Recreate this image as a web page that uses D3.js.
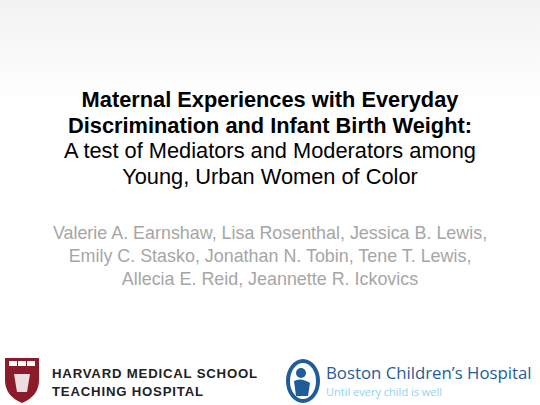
<!DOCTYPE html>
<html><head><meta charset="utf-8">
<script src="https://cdn.jsdelivr.net/npm/d3@7"></script>
<style>body{margin:0;background:#fff}</style></head>
<body><svg id="s" width="540" height="405"></svg>
<script>
const titleLines=["Maternal Experiences with Everyday","Discrimination and Infant Birth Weight:","A test of Mediators and Moderators among","Young, Urban Women of Color"];
const titleBold=[true,true,false,false];
const authorLines=["Valerie A. Earnshaw, Lisa Rosenthal, Jessica B. Lewis,","Emily C. Stasko, Jonathan N. Tobin, Tene T. Lewis,","Allecia E. Reid, Jeannette R. Ickovics"];
const svg=d3.select("#s");
const defs=svg.append("defs");
const g=defs.append("linearGradient").attr("id","bg").attr("x1",0).attr("y1",0).attr("x2",0).attr("y2",1);
g.append("stop").attr("offset","0%").attr("stop-color","#f2f2f2");
g.append("stop").attr("offset","25%").attr("stop-color","#ffffff");
svg.append("rect").attr("width",540).attr("height",405).attr("fill","url(#bg)");
const ty=d3.scaleLinear().domain([0,3]).range([107,184]);
svg.selectAll("text.t").data(titleLines).join("text").attr("class","t")
 .attr("x",270).attr("y",(d,i)=>ty(i)).attr("text-anchor","middle")
 .attr("font-family","Liberation Sans, Arial").attr("font-size",21.8)
 .attr("font-weight",(d,i)=>titleBold[i]?"bold":"normal").attr("fill","#000").text(d=>d);
const ay=d3.scaleLinear().domain([0,2]).range([239,285]);
svg.selectAll("text.a").data(authorLines).join("text").attr("class","a")
 .attr("x",270).attr("y",(d,i)=>ay(i)).attr("text-anchor","middle")
 .attr("font-family","Liberation Sans, Arial").attr("font-size",17.9)
 .attr("fill","#a6a6a6").text(d=>d);
const sh=svg.append("g").attr("transform","translate(5,358)");
sh.append("path").attr("d","M0,0 H34 V22 Q34,38 17,45 Q0,38 0,22 Z").attr("fill","#8c1b2a");
[4,13,22].forEach(x=>sh.append("rect").attr("x",x).attr("y",3).attr("width",8).attr("height",5).attr("fill","#fff"));
sh.append("path").attr("d","M9,16 L25,16 L22,34 L12,34 Z").attr("fill","#fff").attr("opacity",0.85);
svg.append("text").attr("x",52).attr("y",378).attr("font-family","Liberation Sans, Arial").attr("font-size",13.2).attr("font-weight","bold").attr("letter-spacing",0.8).attr("fill","#222").text("HARVARD MEDICAL SCHOOL");
svg.append("text").attr("x",52).attr("y",396).attr("font-family","Liberation Sans, Arial").attr("font-size",13.2).attr("font-weight","bold").attr("letter-spacing",0.8).attr("fill","#222").text("TEACHING HOSPITAL");
const bl=svg.append("g").attr("transform","translate(303,381)");
bl.append("ellipse").attr("rx",17).attr("ry",22).attr("fill","#1f5c99");
bl.append("ellipse").attr("rx",13).attr("ry",18).attr("fill","#fff");
bl.append("circle").attr("cx",-2).attr("cy",-8).attr("r",5).attr("fill","#1f5c99");
bl.append("path").attr("d","M-9,0 Q-2,-4 7,2 L5,15 L-7,15 Z").attr("fill","#1f5c99");
svg.append("text").attr("x",326).attr("y",379).attr("font-family","Open Sans, Arial").attr("font-size",16.8).attr("fill","#1f5c99").text("Boston Children’s Hospital");
svg.append("text").attr("x",326).attr("y",396).attr("font-family","Open Sans, Arial").attr("font-size",11).attr("fill","#8fd3ea").text("Until every child is well");
</script></body></html>
